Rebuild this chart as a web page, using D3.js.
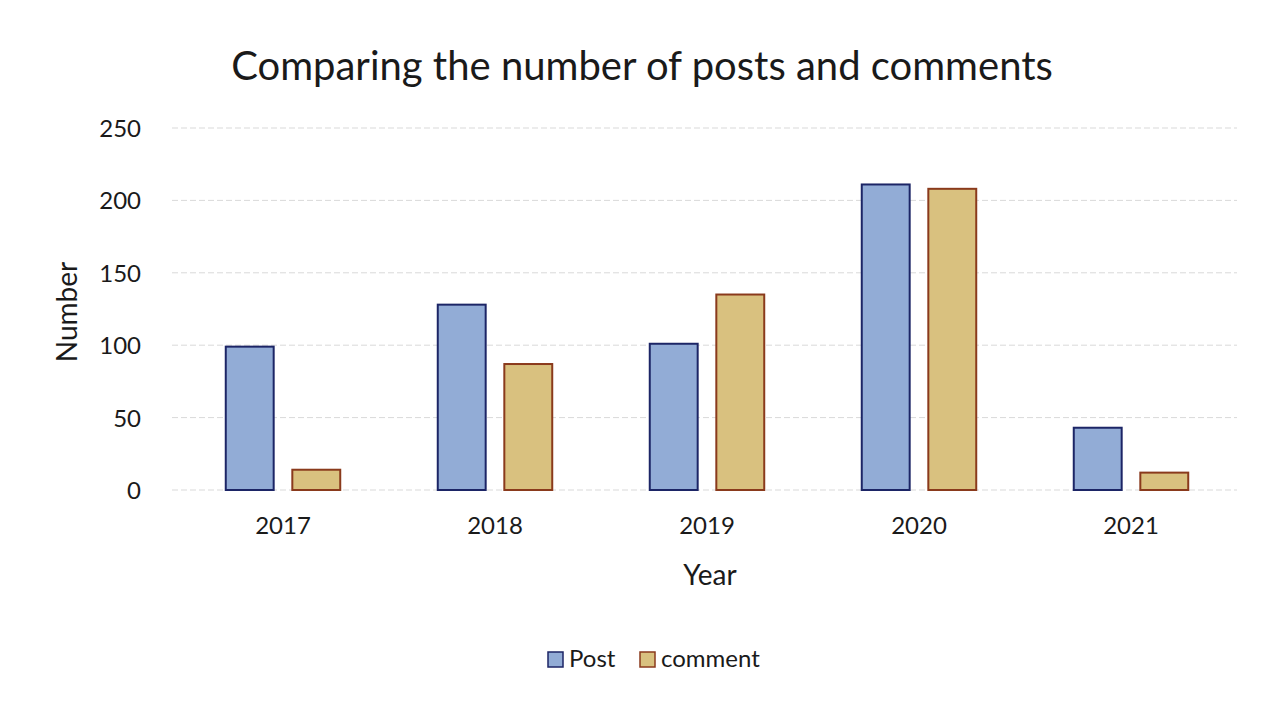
<!DOCTYPE html>
<html>
<head>
<meta charset="utf-8">
<script src="https://cdn.jsdelivr.net/npm/d3@7"></script>
<style>
  body { margin: 0; background: #fff; }
  text { font-family: Lato, "Open Sans", sans-serif; fill: #1a1a1a; }
</style>
</head>
<body>
<script>
// chart data
let years = ["2017", "2018", "2019", "2020", "2021"]
let series = ["Post", "comment"]
let posts = [99, 128, 101, 211, 43]
let comments = [14, 87, 135, 208, 12]
let yTicks = [0, 50, 100, 150, 200, 250]

let width = 1274
let height = 708
let margin = { left: 177, right: 37, top: 128, bottom: 218 }

let fills = { Post: "#92acd6", comment: "#d9c17f" }
let strokes = { Post: "#1c2566", comment: "#8a3a1c" }

let rows = years.map((y, i) => ({ year: y, Post: posts[i], comment: comments[i] }))

let svg = d3.select("body").append("svg")
    .attr("width", width)
    .attr("height", height)

let x = d3.scaleBand()
    .domain(years)
    .range([margin.left, width - margin.right])
    .paddingInner(0.46)
    .paddingOuter(0.23)

let xInner = d3.scaleBand()
    .domain(series)
    .range([0, x.bandwidth()])
    .paddingInner(0.28)

let y = d3.scaleLinear()
    .domain([0, 250])
    .range([height - margin.bottom, margin.top])

// gridlines
svg.append("g")
    .selectAll("line")
    .data(yTicks).enter()
    .append("line")
    .attr("x1", margin.left - 5)
    .attr("x2", width - margin.right)
    .attr("y1", d => y(d))
    .attr("y2", d => y(d))
    .style("stroke", "#d9d9d9")
    .style("stroke-width", 1)
    .style("stroke-dasharray", "6,3")

// y axis labels
let yAxis = svg.append("g")
    .attr("transform", `translate(${margin.left - 36},0)`)
    .call(d3.axisLeft(y).tickValues(yTicks).tickSize(0).tickPadding(0))
yAxis.select(".domain").remove()
yAxis.selectAll("text")
    .style("font-size", "24px")
    .attr("dy", "0.35em")

// x axis labels
let xAxis = svg.append("g")
    .attr("transform", `translate(0,${height - margin.bottom})`)
    .call(d3.axisBottom(x).tickSize(0).tickPadding(27))
xAxis.select(".domain").remove()
xAxis.selectAll("text")
    .style("font-size", "24px")

// bars
let groups = svg.append("g")
    .selectAll("g")
    .data(rows).enter()
    .append("g")
    .attr("transform", d => `translate(${x(d.year)},0)`)

groups.selectAll("rect")
    .data(d => series.map(s => ({ key: s, value: d[s] }))).enter()
    .append("rect")
    .attr("x", d => xInner(d.key))
    .attr("width", xInner.bandwidth())
    .attr("y", d => y(d.value))
    .attr("height", d => y(0) - y(d.value))
    .style("fill", d => fills[d.key])
    .style("stroke", d => strokes[d.key])
    .style("stroke-width", 2)

// title
svg.append("text")
    .attr("x", 642)
    .attr("y", 80)
    .attr("text-anchor", "middle")
    .style("font-size", "40px")
    .text("Comparing the number of posts and comments")

// axis titles
svg.append("text")
    .attr("x", 710)
    .attr("y", 585)
    .attr("text-anchor", "middle")
    .style("font-size", "28px")
    .text("Year")

svg.append("text")
    .attr("transform", "translate(77,312) rotate(-90)")
    .attr("text-anchor", "middle")
    .style("font-size", "28px")
    .text("Number")

// legend
let legend = svg.append("g")
    .attr("transform", "translate(548,659)")
let legendX = [0, 92]
series.forEach((s, i) => {
    let g = legend.append("g").attr("transform", `translate(${legendX[i]},0)`)
    g.append("rect")
        .attr("x", 0)
        .attr("y", -7)
        .attr("width", 15)
        .attr("height", 15)
        .style("fill", fills[s])
        .style("stroke", strokes[s])
        .style("stroke-width", 1.5)
    g.append("text")
        .attr("x", 21)
        .attr("y", 0)
        .attr("dy", "0.35em")
        .style("font-size", "24px")
        .text(s)
})
</script>
</body>
</html>
